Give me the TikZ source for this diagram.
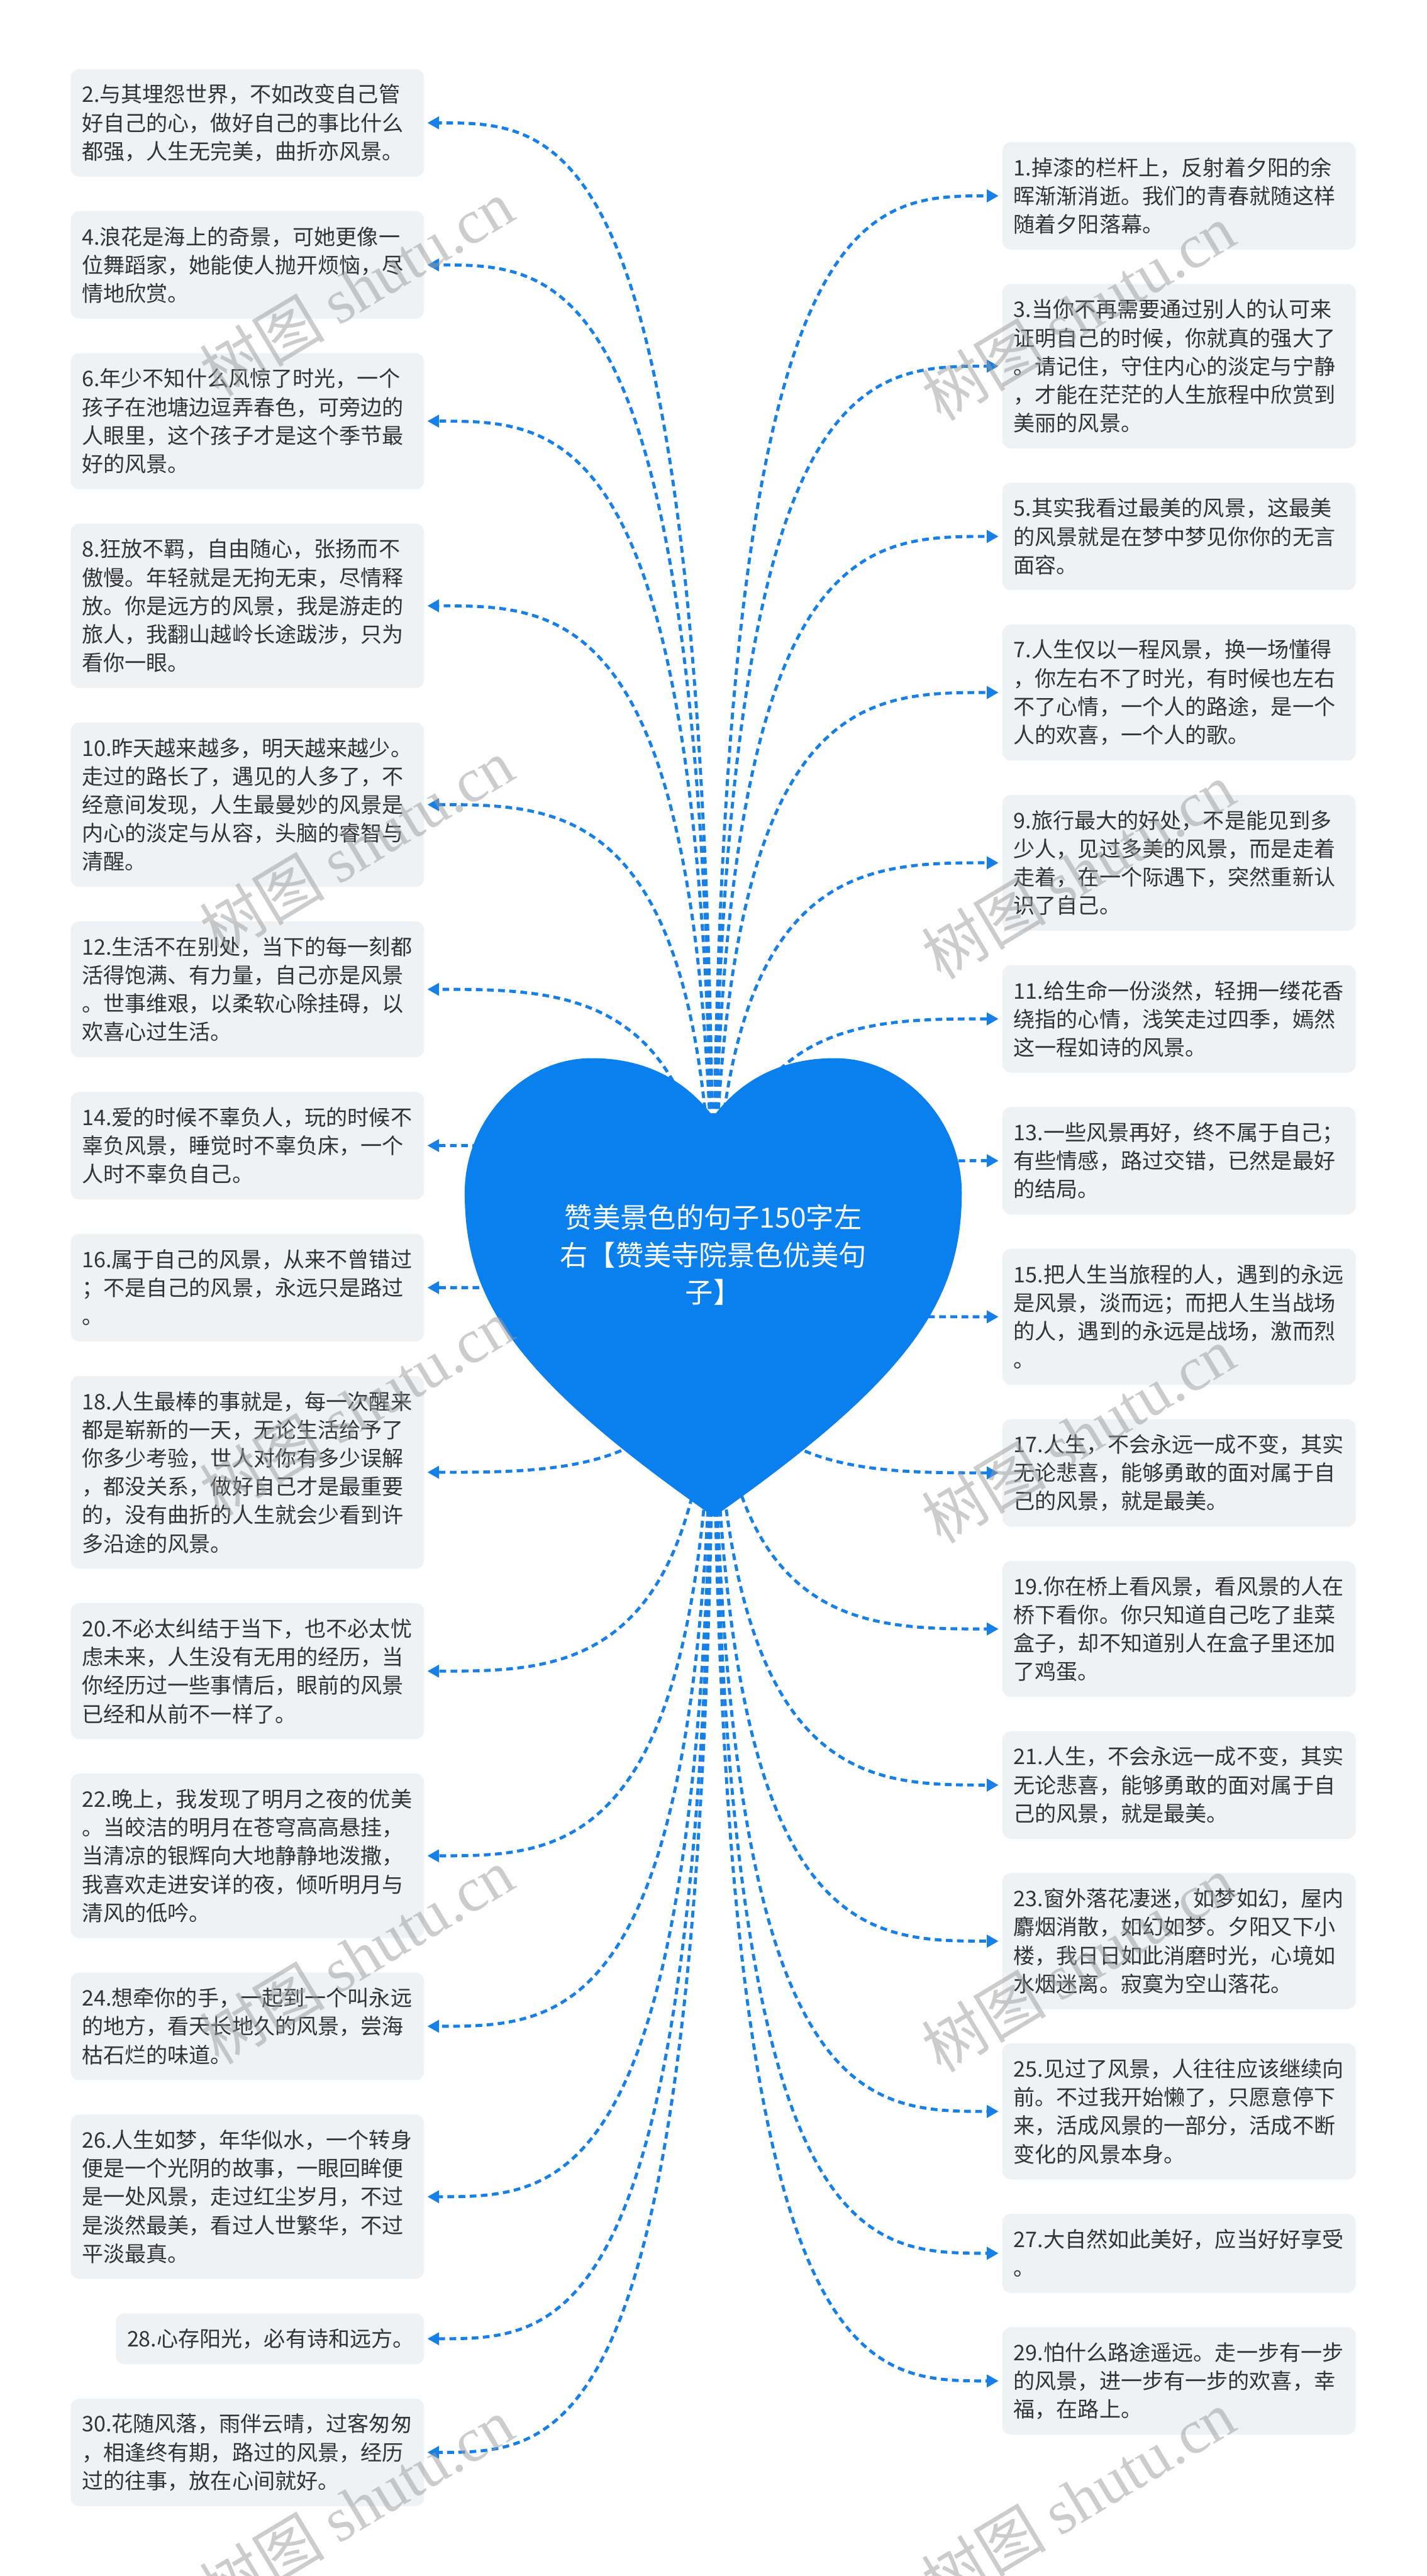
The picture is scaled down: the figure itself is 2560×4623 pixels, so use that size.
\documentclass[tikz,border=0pt]{standalone}
\usepackage{fontspec}
\setmainfont{Noto Sans CJK SC}
\newfontfamily\wmlatin{Liberation Serif}
\usetikzlibrary{arrows.meta,calc}
\definecolor{boxbg}{HTML}{EFF2F5}
\definecolor{txt}{HTML}{333333}
\definecolor{heartblue}{HTML}{0A80EE}
\definecolor{linkblue}{HTML}{1680E8}
\definecolor{wmgray}{HTML}{9A9A9A}
\tikzset{
  qbox/.style={fill=boxbg, rounded corners=15pt, text=txt, align=left,
    text width=594pt, inner xsep=20pt, inner ysep=0pt, outer sep=0pt,
    font=\fontsize{38.5}{51}\selectfont},
  conn/.style={draw=linkblue, line width=5.5pt, dash pattern=on 12pt off 8pt,
    -{Triangle[length=21pt,width=22pt]}},
  wmark/.style={text=wmgray, opacity=0.5, rotate=31, font=\fontsize{112}{112}\selectfont}
}
\newcommand\LB[4]{\node[qbox,anchor=north east,minimum height={51*#3+40}] (#1) at ([yshift=-61.9pt]#2.south east) {#4};}
\newcommand\RB[4]{\node[qbox,anchor=north west,minimum height={51*#3+40}] (#1) at ([yshift=-61.6pt]#2.south west) {#4};}
\newcommand\LE[1]{\draw[conn] (root) .. controls (root |- #1.east) and ($(root |- #1.east)!0.5!(#1.east)$) .. ([xshift=6pt]#1.east);}
\newcommand\RE[1]{\draw[conn] (root) .. controls (root |- #1.west) and ($(root |- #1.west)!0.5!(#1.west)$) .. ([xshift=-7pt]#1.west);}
\begin{document}
\begin{tikzpicture}[x=1pt,y=-1pt]
\useasboundingbox (0,0) rectangle (2560,4623);
\fill[white] (0,0) rectangle (2560,4623);
\coordinate (root) at (1280,2310);
% ---------- left column ----------
\node[qbox,anchor=north west,minimum height=193] (b2) at (127,124) {2.与其埋怨世界，不如改变自己管\\好自己的心，做好自己的事比什么\\都强，人生无完美，曲折亦风景。};
\LB{b4}{b2}{3}{4.浪花是海上的奇景，可她更像一\\位舞蹈家，她能使人抛开烦恼，尽\\情地欣赏。}
\LB{b6}{b4}{4}{6.年少不知什么风惊了时光，一个\\孩子在池塘边逗弄春色，可旁边的\\人眼里，这个孩子才是这个季节最\\好的风景。}
\LB{b8}{b6}{5}{8.狂放不羁，自由随心，张扬而不\\傲慢。年轻就是无拘无束，尽情释\\放。你是远方的风景，我是游走的\\旅人，我翻山越岭长途跋涉，只为\\看你一眼。}
\LB{b10}{b8}{5}{10.昨天越来越多，明天越来越少。\\走过的路长了，遇见的人多了，不\\经意间发现，人生最曼妙的风景是\\内心的淡定与从容，头脑的睿智与\\清醒。}
\LB{b12}{b10}{4}{12.生活不在别处，当下的每一刻都\\活得饱满、有力量，自己亦是风景\\。世事维艰，以柔软心除挂碍，以\\欢喜心过生活。}
\LB{b14}{b12}{3}{14.爱的时候不辜负人，玩的时候不\\辜负风景，睡觉时不辜负床，一个\\人时不辜负自己。}
\LB{b16}{b14}{3}{16.属于自己的风景，从来不曾错过\\；不是自己的风景，永远只是路过\\。}
\LB{b18}{b16}{6}{18.人生最棒的事就是，每一次醒来\\都是崭新的一天，无论生活给予了\\你多少考验，世人对你有多少误解\\，都没关系，做好自己才是最重要\\的，没有曲折的人生就会少看到许\\多沿途的风景。}
\LB{b20}{b18}{4}{20.不必太纠结于当下，也不必太忧\\虑未来，人生没有无用的经历，当\\你经历过一些事情后，眼前的风景\\已经和从前不一样了。}
\LB{b22}{b20}{5}{22.晚上，我发现了明月之夜的优美\\。当皎洁的明月在苍穹高高悬挂，\\当清凉的银辉向大地静静地泼撒，\\我喜欢走进安详的夜，倾听明月与\\清风的低吟。}
\LB{b24}{b22}{3}{24.想牵你的手，一起到一个叫永远\\的地方，看天长地久的风景，尝海\\枯石烂的味道。}
\LB{b26}{b24}{5}{26.人生如梦，年华似水，一个转身\\便是一个光阴的故事，一眼回眸便\\是一处风景，走过红尘岁月，不过\\是淡然最美，看过人世繁华，不过\\平淡最真。}
\node[qbox,text width=513pt,anchor=north east,minimum height=91] (b28) at ([yshift=-61.9pt]b26.south east) {28.心存阳光，必有诗和远方。};
\LB{b30}{b28}{3}{30.花随风落，雨伴云晴，过客匆匆\\，相逢终有期，路过的风景，经历\\过的往事，放在心间就好。}
% ---------- right column ----------
\node[qbox,anchor=north west,minimum height=193] (b1) at (1799,255) {1.掉漆的栏杆上，反射着夕阳的余\\晖渐渐消逝。我们的青春就随这样\\随着夕阳落幕。};
\RB{b3}{b1}{5}{3.当你不再需要通过别人的认可来\\证明自己的时候，你就真的强大了\\。请记住，守住内心的淡定与宁静\\，才能在茫茫的人生旅程中欣赏到\\美丽的风景。}
\RB{b5}{b3}{3}{5.其实我看过最美的风景，这最美\\的风景就是在梦中梦见你你的无言\\面容。}
\RB{b7}{b5}{4}{7.人生仅以一程风景，换一场懂得\\，你左右不了时光，有时候也左右\\不了心情，一个人的路途，是一个\\人的欢喜，一个人的歌。}
\RB{b9}{b7}{4}{9.旅行最大的好处，不是能见到多\\少人，见过多美的风景，而是走着\\走着，在一个际遇下，突然重新认\\识了自己。}
\RB{b11}{b9}{3}{11.给生命一份淡然，轻拥一缕花香\\绕指的心情，浅笑走过四季，嫣然\\这一程如诗的风景。}
\RB{b13}{b11}{3}{13.一些风景再好，终不属于自己；\\有些情感，路过交错，已然是最好\\的结局。}
\RB{b15}{b13}{4}{15.把人生当旅程的人，遇到的永远\\是风景，淡而远；而把人生当战场\\的人，遇到的永远是战场，激而烈\\。}
\RB{b17}{b15}{3}{17.人生，不会永远一成不变，其实\\无论悲喜，能够勇敢的面对属于自\\己的风景，就是最美。}
\RB{b19}{b17}{4}{19.你在桥上看风景，看风景的人在\\桥下看你。你只知道自己吃了韭菜\\盒子，却不知道别人在盒子里还加\\了鸡蛋。}
\RB{b21}{b19}{3}{21.人生，不会永远一成不变，其实\\无论悲喜，能够勇敢的面对属于自\\己的风景，就是最美。}
\RB{b23}{b21}{4}{23.窗外落花凄迷，如梦如幻，屋内\\麝烟消散，如幻如梦。夕阳又下小\\楼，我日日如此消磨时光，心境如\\水烟迷离。寂寞为空山落花。}
\RB{b25}{b23}{4}{25.见过了风景，人往往应该继续向\\前。不过我开始懒了，只愿意停下\\来，活成风景的一部分，活成不断\\变化的风景本身。}
\RB{b27}{b25}{2}{27.大自然如此美好，应当好好享受\\。}
\RB{b29}{b27}{3}{29.怕什么路途遥远。走一步有一步\\的风景，进一步有一步的欢喜，幸\\福，在路上。}
% ---------- connectors ----------
\foreach \n in {b2,b4,b6,b8,b10,b12,b14,b16,b18,b20,b22,b24,b26,b28,b30} {\LE{\n}}
\foreach \n in {b1,b3,b5,b7,b9,b11,b13,b15,b17,b19,b21,b23,b25,b27,b29} {\RE{\n}}
% ---------- heart ----------
\fill[heartblue] (1280,2004) .. controls (1340,1925) and (1420,1899) .. (1498,1899)
  .. controls (1624,1899) and (1726,2012) .. (1726,2140)
  .. controls (1726,2330) and (1640,2470) .. (1281,2722)
  .. controls (920,2470) and (834,2330) .. (834,2140)
  .. controls (834,2012) and (936,1899) .. (1062,1899)
  .. controls (1140,1899) and (1220,1925) .. (1280,2004) -- cycle;
\node[text=white, align=center, inner sep=0pt, font=\fontsize{50}{67}\selectfont] (title) at (1280,2252) {赞美景色的句子150字左\\右【赞美寺院景色优美句\\子】};
% ---------- watermarks ----------
\node[wmark] (wm1) at (640,516) {树图 {\wmlatin shutu.cn}};
\node[wmark] (wm2) at (1935,560) {树图 {\wmlatin shutu.cn}};
\node[wmark] (wm3) at (640,1519) {树图 {\wmlatin shutu.cn}};
\node[wmark] (wm4) at (1935,1563) {树图 {\wmlatin shutu.cn}};
\node[wmark] (wm5) at (640,2525) {树图 {\wmlatin shutu.cn}};
\node[wmark] (wm6) at (1935,2575) {树图 {\wmlatin shutu.cn}};
\node[wmark] (wm7) at (640,3510) {树图 {\wmlatin shutu.cn}};
\node[wmark] (wm8) at (1935,3524) {树图 {\wmlatin shutu.cn}};
\node[wmark] (wm9) at (640,4497) {树图 {\wmlatin shutu.cn}};
\node[wmark] (wm10) at (1935,4483) {树图 {\wmlatin shutu.cn}};
\end{tikzpicture}
\end{document}
